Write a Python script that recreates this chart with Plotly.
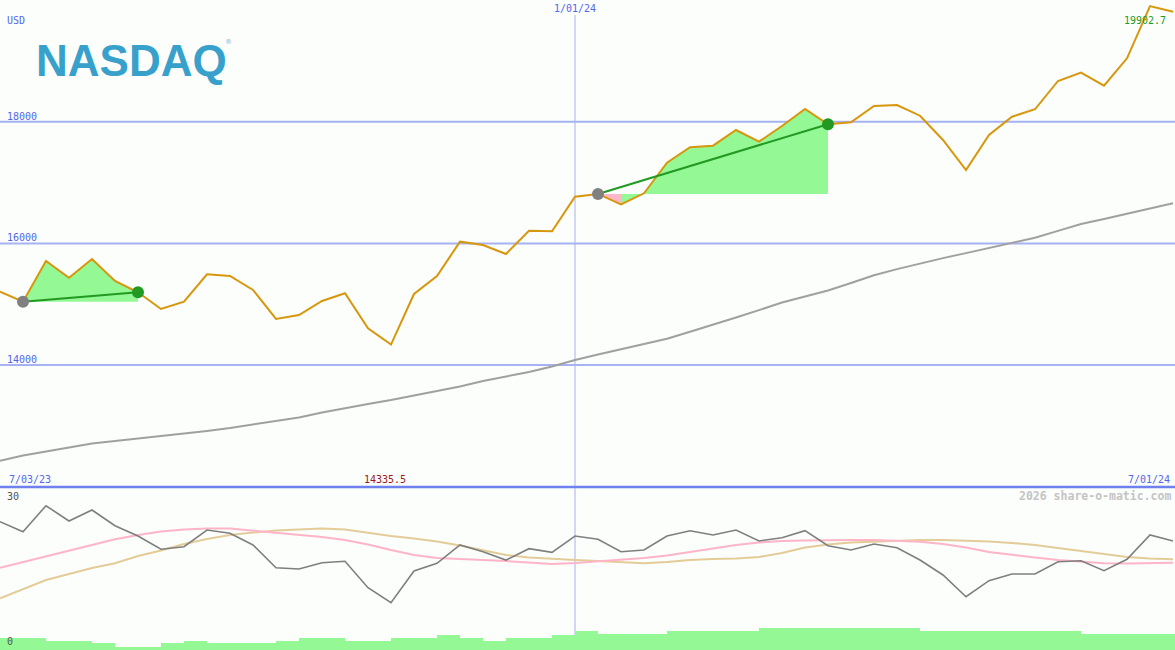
import plotly.graph_objects as go
import pandas as pd

W, H = 1175, 650

# ---------------- data ----------------
dates = pd.date_range("2023-07-10", periods=52, freq="7D")

close = [15206, 15041, 15711, 15436, 15743, 15382, 15196, 14921, 15041, 15492,
         15464, 15234, 14757, 14822, 15053, 15179, 14604, 14335.5, 15168, 15464,
         16028, 15974, 15826, 16209, 16200, 16768, 16813, 16643, 16824, 17327,
         17581, 17607, 17865, 17673, 17931, 18211, 17959, 17992, 18260, 18276,
         18100, 17701, 17207, 17783, 18084, 18206, 18671, 18808, 18594, 19044,
         19902.7, 19811]

ma_long = [12426, 12512, 12577, 12643, 12709, 12750, 12791, 12832, 12865, 12915,
           12964, 13021, 13079, 13137, 13219, 13293, 13359, 13424, 13498, 13564,
           13646, 13737, 13811, 13885, 13975, 14082, 14173, 14263, 14354, 14433,
           14548, 14661, 14780, 14903, 15028, 15128, 15225, 15349, 15475, 15577,
           15669, 15758, 15840, 15923, 16003, 16092, 16206, 16319, 16401, 16484,
           16572, 16661]

osc = [26.29, 24.24, 29.57, 26.43, 28.69, 25.47, 23.36, 20.64, 21.17, 24.59,
       23.91, 21.52, 16.86, 16.60, 17.89, 18.18, 12.77, 9.69, 16.19, 17.77,
       21.52, 20.14, 18.44, 20.76, 20.02, 23.36, 22.68, 20.14, 20.49, 23.36,
       24.45, 23.57, 24.59, 22.34, 23.01, 24.45, 21.37, 20.49, 21.72, 20.96,
       18.44, 15.37, 10.92, 14.20, 15.57, 15.57, 18.09, 18.30, 16.25, 18.59,
       23.57, 22.34]

osc_fast = [16.86, 18.03, 19.12, 20.29, 21.52, 22.68, 23.57, 24.28, 24.69, 24.90,
            24.90, 24.49, 24.08, 23.67, 23.16, 22.54, 21.62, 20.49, 19.47, 18.85,
            18.59, 18.44, 18.24, 17.93, 17.62, 17.83, 18.14, 18.44, 18.85, 19.36,
            20.08, 20.90, 21.52, 22.03, 22.34, 22.44, 22.54, 22.54, 22.54, 22.44,
            22.19, 21.72, 21.00, 20.08, 19.47, 18.95, 18.44, 18.03, 17.77, 17.73,
            17.83, 17.89]

osc_slow = [10.59, 12.50, 14.34, 15.57, 16.80, 17.77, 19.26, 20.39, 21.72, 22.75,
            23.57, 24.08, 24.49, 24.69, 24.90, 24.69, 23.98, 23.36, 22.85, 22.23,
            21.41, 20.49, 19.47, 18.95, 18.65, 18.44, 18.24, 17.93, 17.77, 18.03,
            18.44, 18.65, 18.75, 19.06, 19.88, 21.00, 21.62, 22.03, 22.23, 22.44,
            22.54, 22.54, 22.44, 22.23, 21.93, 21.52, 20.90, 20.29, 19.67, 19.06,
            18.75, 18.59]

volume = [2.52, 2.52, 1.84, 1.84, 1.37, 0.68, 0.68, 1.37, 1.84, 1.37,
          1.37, 1.37, 1.84, 2.52, 2.52, 1.84, 1.84, 2.52, 2.52, 3.07,
          2.52, 1.84, 2.52, 2.52, 3.07, 3.89, 3.22, 3.22, 3.22, 3.89,
          3.89, 3.89, 3.89, 4.57, 4.57, 4.57, 4.57, 4.57, 4.57, 4.57,
          3.89, 3.89, 3.89, 3.89, 3.89, 3.89, 3.89, 3.22, 3.22, 3.22,
          3.22, 3.22]

trend_periods = [(1, 6), (26, 36)]   # start index, end index
price_ticks = [14000, 16000, 18000]
osc_ticks = [30, 0]
date_labels = ["7/03/23", "1/01/24", "7/01/24"]
vline_index = 25
max_label = "19902.7"
min_label = "14335.5"

# ---------------- styles ----------------
BG = "#fbfefb"
GRID = "#a6b2f2"
SEP = "#6f80ef"
ORANGE = "#d8960c"
GREEN_FILL = "#94f894"
PINK_FILL = "#ffb8c8"
DKGREEN = "#229922"
MONO = "DejaVu Sans Mono"
LBL = "#5566ee"

TOP_FRAC = 487 / H          # price pane height (pixels 0..487)
PRICE_RANGE = [11993.5, 20003]
OSC_RANGE = [0, 33.2]


def px(x):
    return x / W


def py(y):
    return 1 - y / H


fig = go.Figure()

# long moving average
fig.add_trace(go.Scatter(x=dates, y=ma_long, mode="lines",
                         line=dict(color="#a0a0a0", width=2), hoverinfo="skip"))

# shaded trend periods
for s, e in trend_periods:
    base = close[s]
    for i in range(s, e):
        col = GREEN_FILL if close[i + 1] >= base else PINK_FILL
        fig.add_trace(go.Scatter(
            x=[dates[i], dates[i], dates[i + 1], dates[i + 1], dates[i]],
            y=[base, close[i], close[i + 1], base, base],
            mode="lines", fill="toself", fillcolor=col,
            line=dict(width=0, color=col), hoverinfo="skip"))

# price line
fig.add_trace(go.Scatter(x=dates, y=close, mode="lines",
                         line=dict(color=ORANGE, width=2), hoverinfo="skip"))

# trend lines and markers
for s, e in trend_periods:
    fig.add_trace(go.Scatter(x=[dates[s], dates[e]], y=[close[s], close[e]],
                             mode="lines", line=dict(color=DKGREEN, width=2),
                             hoverinfo="skip"))
    fig.add_trace(go.Scatter(x=[dates[s]], y=[close[s]], mode="markers",
                             marker=dict(color="#808080", size=12), hoverinfo="skip"))
    fig.add_trace(go.Scatter(x=[dates[e]], y=[close[e]], mode="markers",
                             marker=dict(color=DKGREEN, size=12), hoverinfo="skip"))

# lower pane
bar_x = dates + pd.Timedelta(days=3.5)
fig.add_trace(go.Bar(x=bar_x, y=volume, yaxis="y2", marker=dict(color="#94f894", line=dict(width=0)),
                     width=7 * 24 * 3600 * 1000, hoverinfo="skip"))
fig.add_trace(go.Scatter(x=dates, y=osc_slow, yaxis="y2", mode="lines",
                         line=dict(color="#e4cc98", width=2), hoverinfo="skip"))
fig.add_trace(go.Scatter(x=dates, y=osc_fast, yaxis="y2", mode="lines",
                         line=dict(color="#ffb4c8", width=2), hoverinfo="skip"))
fig.add_trace(go.Scatter(x=dates, y=osc, yaxis="y2", mode="lines",
                         line=dict(color="#7f7f7f", width=1.6), hoverinfo="skip"))

# ---------------- shapes ----------------
shapes = []
for t in price_ticks:
    shapes.append(dict(type="line", xref="paper", yref="y", x0=0, x1=1, y0=t, y1=t,
                       line=dict(color=GRID, width=2), layer="below"))
shapes.append(dict(type="line", xref="x", yref="paper", x0=dates[vline_index], x1=dates[vline_index],
                   y0=0, y1=py(15), line=dict(color=GRID, width=1), layer="below"))
shapes.append(dict(type="line", xref="paper", yref="paper", x0=0, x1=1,
                   y0=py(487), y1=py(487), line=dict(color=SEP, width=2.5), layer="above"))

# ---------------- annotations ----------------
ann = []


def label(text, x, y, xanchor="left", color=LBL, size=10, family=MONO, bold=False):
    t = f"<b>{text}</b>" if bold else text
    ann.append(dict(text=t, x=px(x), y=py(y), xref="paper", yref="paper",
                    xanchor=xanchor, yanchor="middle", showarrow=False,
                    font=dict(family=family, size=size, color=color)))


label("USD", 5, 20)
for t in price_ticks:
    ann.append(dict(text=str(t), x=px(5), y=t, xref="paper", yref="y",
                    xanchor="left", yanchor="bottom", showarrow=False, yshift=-2,
                    font=dict(family=MONO, size=10, color=LBL)))
ann.append(dict(text=date_labels[1], x=dates[vline_index], y=py(9), xref="x", yref="paper",
                xanchor="center", yanchor="middle", showarrow=False,
                font=dict(family=MONO, size=10, color=LBL)))
label(max_label, 1168, 21, xanchor="right", color=DKGREEN)
label(date_labels[0], 7, 479)
label(min_label, 362, 479, color="#a01818")
label(date_labels[2], 1172, 479, xanchor="right")
label("2026 share-o-matic.com", 1173, 496, xanchor="right", color="#c4c4c4", size=11.5, bold=True)
label(str(osc_ticks[0]), 5, 496, color="#555555")
label(str(osc_ticks[1]), 5, 641, color="#555555")

# logo
ann.append(dict(text="<b>NASDAQ</b>", x=px(131.5), y=py(60), xref="paper", yref="paper",
                xanchor="center", yanchor="middle", showarrow=False,
                font=dict(family="Liberation Sans", size=44, color="#38a1cb")))
ann.append(dict(text="®", x=px(228), y=py(42), xref="paper", yref="paper",
                xanchor="center", yanchor="middle", showarrow=False,
                font=dict(family="DejaVu Sans", size=7, color="#88b8d8")))

x_end = dates[0] + pd.Timedelta(days=7 * W / 23)

fig.update_layout(
    width=W, height=H, margin=dict(l=0, r=0, t=0, b=0),
    paper_bgcolor=BG, plot_bgcolor=BG, showlegend=False, bargap=0,
    xaxis=dict(range=[dates[0], x_end], visible=False, showgrid=False, zeroline=False),
    yaxis=dict(domain=[1 - TOP_FRAC, 1], range=PRICE_RANGE, visible=False,
               showgrid=False, zeroline=False),
    yaxis2=dict(domain=[0, py(488)], range=OSC_RANGE, visible=False,
                showgrid=False, zeroline=False),
    shapes=shapes, annotations=ann,
)

fig.write_html("out.html", config={"displayModeBar": False},
               post_script="document.body.style.margin='0px';document.body.style.overflow='hidden';")
